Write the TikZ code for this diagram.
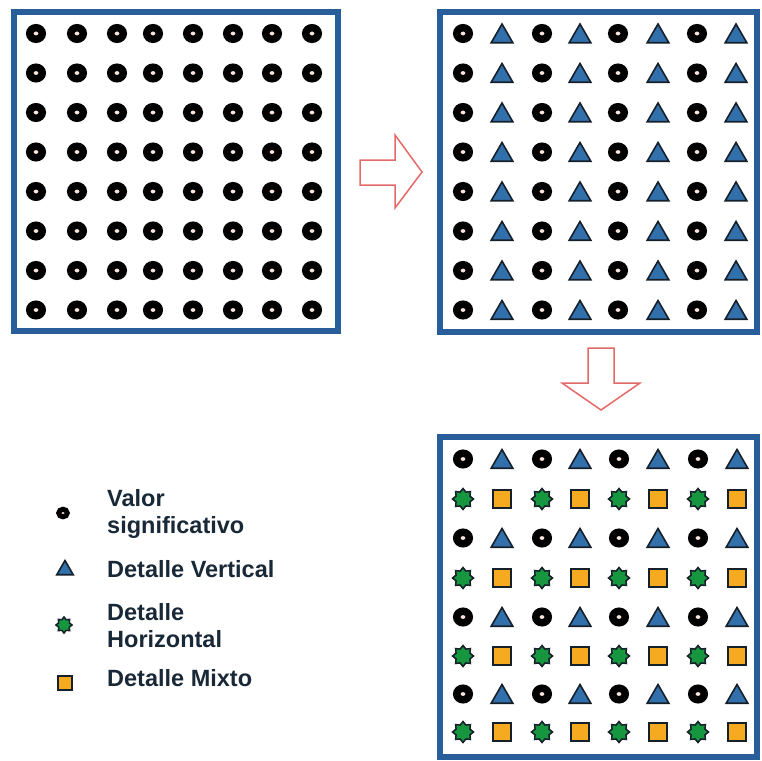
\documentclass[tikz,border=0pt]{standalone}
\usepackage{fontspec}
\setmainfont{Liberation Sans}
\usetikzlibrary{shapes.geometric}
\definecolor{boxblue}{RGB}{40,95,155}
\definecolor{triblue}{RGB}{50,112,172}
\definecolor{stargreen}{RGB}{22,150,62}
\definecolor{sqorange}{RGB}{246,170,32}
\definecolor{outline}{RGB}{22,32,42}
\definecolor{arrowred}{RGB}{228,105,105}
\definecolor{holefill}{RGB}{250,228,220}
\definecolor{legtextcol}{RGB}{25,40,55}
\begin{document}
\begin{tikzpicture}[x=1pt,y=-1pt,
  ring/.style={ellipse, draw=black, line width=7.5pt, fill=holefill, minimum width=12.5pt, minimum height=11.5pt, inner sep=0pt},
  smallring/.style={ellipse, draw=black, line width=5pt, fill=holefill, minimum width=8.5pt, minimum height=7.5pt, inner sep=0pt},
  tri/.style={regular polygon, regular polygon sides=3, draw=outline, line width=1.6pt, fill=triblue, minimum size=25pt, inner sep=0pt},
  smalltri/.style={tri, minimum size=19pt},
  starsym/.style={star, star points=8, star point ratio=1.4, draw=outline, line width=1.5pt, fill=stargreen, minimum size=21pt, inner sep=0pt},
  smallstar/.style={starsym, minimum size=16pt},
  sq/.style={rectangle, draw=outline, line width=1.8pt, fill=sqorange, minimum size=18pt, inner sep=0pt},
  smallsq/.style={sq, minimum size=13.5pt},
  panel/.style={draw=boxblue, line width=6pt},
  blockarrow/.style={draw=arrowred, line width=1.5pt, fill=white, line join=miter},
  legtext/.style={anchor=base west, align=left, inner sep=0pt, text=legtextcol, font=\fontsize{23.5}{27}\selectfont\bfseries}
]
\useasboundingbox (0,0) rectangle (762,760);
\fill[white] (0,0) rectangle (762,760);

% panels
\draw[panel] (14,12) rectangle (338,331);
\draw[panel] (440,12) rectangle (757,332);
\draw[panel] (440,437) rectangle (757,757);

% top-left grid
\foreach \x [count=\i] in {36,77,117,153,193,233,272,312}
  \foreach \y [count=\j] in {33.5,73,112.5,152,191.5,231,270.5,310}
    \node[ring] (a-\i-\j) at (\x,\y) {};

% top-right grid
\foreach \x [count=\i] in {463,502,542,580,618,658,697,736}
  \foreach \y [count=\j] in {33.5,73,112.5,152,191.5,231,270.5,310}{
    \ifodd\i
      \node[ring] (b-\i-\j) at (\x,\y) {};
    \else
      \node[tri] (b-\i-\j) at ({\x},{\y+3}) {};
    \fi
  }

% bottom-right grid
\foreach \x [count=\i] in {463,502,542,580,619,658,698,737}
  \foreach \y [count=\j] in {459,499,538,578,617,656,694,732}{
    \ifodd\j
      \ifodd\i
        \node[ring] (c-\i-\j) at (\x,\y) {};
      \else
        \node[tri] (c-\i-\j) at ({\x},{\y+3}) {};
      \fi
    \else
      \ifodd\i
        \node[starsym] (c-\i-\j) at (\x,\y) {};
      \else
        \node[sq] (c-\i-\j) at (\x,\y) {};
      \fi
    \fi
  }

% block arrows
\draw[blockarrow] (360,160) -- (395,160) -- (395,135) -- (422,172) -- (395,208) -- (395,185) -- (360,185) -- cycle;
\draw[blockarrow] (588,348) -- (614,348) -- (614,383) -- (640,383) -- (601,410) -- (562,383) -- (588,383) -- cycle;

% legend
\node[smallring] (l1) at (63,513) {};
\node[smalltri] (l2) at (65,570) {};
\node[smallstar] (l3) at (64,625) {};
\node[smallsq] (l4) at (65,683) {};
\node[legtext] (t1) at (107,533) {Valor\\significativo};
\node[legtext] (t2) at (107,577) {Detalle Vertical};
\node[legtext] (t3) at (107,647) {Detalle\\Horizontal};
\node[legtext] (t4) at (107,686) {Detalle Mixto};
\end{tikzpicture}
\end{document}
